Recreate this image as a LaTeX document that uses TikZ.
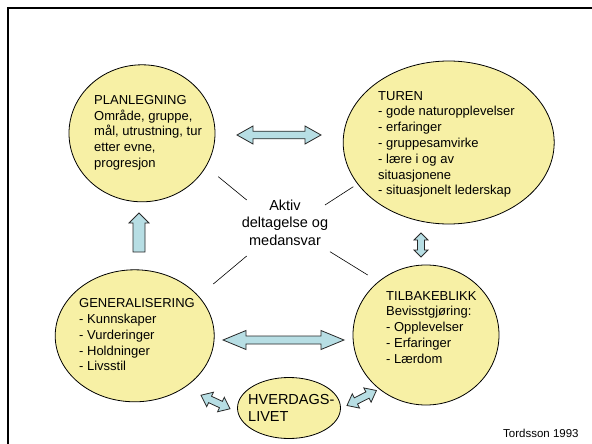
\documentclass[tikz,border=0pt]{standalone}
\usepackage{fontspec}
\setmainfont{Liberation Sans}
\usetikzlibrary{shapes.geometric}
\definecolor{ellfill}{RGB}{247,240,165}
\definecolor{arrfill}{RGB}{183,222,228}
\definecolor{arrline}{RGB}{40,40,40}
\tikzset{
  ell/.style={ellipse, draw=black, line width=0.8pt, fill=ellfill, inner sep=0pt},
  elltext/.style={anchor=north west, inner sep=0pt, align=left, font=\fontsize{13}{15.8}\selectfont},
  blockarr/.style={draw=arrline, line width=0.8pt, fill=arrfill, line join=miter},
  spoke/.style={draw=black, line width=0.6pt}
}
% double block arrow: cx, cy, angle, length, headlen, headhalf, shafthalf
\newcommand{\mydblarrow}[7]{%
  \begin{scope}[shift={(#1,#2)}, rotate=#3]
    \path[blockarr] ({-#4/2},0) -- ({-#4/2+#5},#6) -- ({-#4/2+#5},#7) -- ({#4/2-#5},#7)
      -- ({#4/2-#5},#6) -- ({#4/2},0) -- ({#4/2-#5},-#6) -- ({#4/2-#5},-#7)
      -- ({-#4/2+#5},-#7) -- ({-#4/2+#5},-#6) -- cycle;
  \end{scope}}
\newcommand{\mysglarrow}[7]{%
  \begin{scope}[shift={(#1,#2)}, rotate=#3]
    \path[blockarr] ({-#4/2},#7) -- ({#4/2-#5},#7) -- ({#4/2-#5},#6) -- ({#4/2},0)
      -- ({#4/2-#5},-#6) -- ({#4/2-#5},-#7) -- ({-#4/2},-#7) -- cycle;
  \end{scope}}
\begin{document}
\begin{tikzpicture}[x=1pt, y=-1pt]
\useasboundingbox (0,0) rectangle (592,444);
\fill[white] (0,0) rectangle (592,444);
% frame
\draw[line width=2.6pt, line cap=rect] (8,444) -- (8,8) -- (592,8);

% ellipses
\node[ell, minimum width=146pt, minimum height=137pt] (plan) at (142,133.3) {};
\node[ell, minimum width=211pt, minimum height=163pt] (turen) at (448.7,142.5) {};
\node[ell, minimum width=159pt, minimum height=132pt] (gen) at (134.7,335.8) {};
\node[ell, minimum width=146pt, minimum height=140pt] (tilb) at (426,335) {};
\node[ell, minimum width=103pt, minimum height=61pt] (hverd) at (289,408) {};

% ellipse texts
\node[elltext] (plantxt) at (94,95) {PLANLEGNING\\Område, gruppe,\\mål, utrustning, tur\\etter evne,\\progresjon};
\node[elltext] (turentxt) at (378,91) {TUREN\\- gode naturopplevelser\\- erfaringer\\- gruppesamvirke\\- lære i og av\\situasjonene\\- situasjonelt lederskap};
\node[elltext] (gentxt) at (79,298.5) {GENERALISERING\\- Kunnskaper\\- Vurderinger\\- Holdninger\\- Livsstil};
\node[elltext] (tilbtxt) at (386,291) {TILBAKEBLIKK\\Bevisstgjøring:\\- Opplevelser\\- Erfaringer\\- Lærdom};
\node[elltext, font=\fontsize{14.5}{17}\selectfont] (hverdtxt) at (248,394) {HVERDAGS-\\LIVET};

% centre text
\node[anchor=north, inner sep=0pt, align=center, font=\fontsize{14.5}{17.5}\selectfont] (aktiv) at (285,199.5) {Aktiv\\deltagelse og\\medansvar};

% spokes
\coordinate (ula) at (218.3,176.7); \coordinate (ulb) at (246.7,200);
\coordinate (ura) at (325,205);     \coordinate (urb) at (353.3,186.7);
\coordinate (lla) at (213.3,284);   \coordinate (llb) at (246.7,256);
\coordinate (lra) at (330,251.7);   \coordinate (lrb) at (367.7,275);
\draw[spoke] (ula) -- (ulb);
\draw[spoke] (ura) -- (urb);
\draw[spoke] (lla) -- (llb);
\draw[spoke] (lra) -- (lrb);

% block arrows
\mydblarrow{279}{135}{0}{84}{16}{9}{3.8}
\mydblarrow{283.5}{340}{0}{121}{23}{9.5}{4}
\mydblarrow{421}{245}{90}{24}{7}{7}{3.5}
\mysglarrow{139}{232.5}{90}{39}{10}{10}{6}
\mydblarrow{215.5}{402}{-25}{32}{10}{8}{3.5}
\mydblarrow{361.7}{398}{27}{33}{10}{8}{3.5}

% credit
\node[anchor=base west, inner sep=0pt, font=\fontsize{11.5}{13}\selectfont] (credit) at (503,437) {Tordsson 1993};
\end{tikzpicture}
\end{document}
